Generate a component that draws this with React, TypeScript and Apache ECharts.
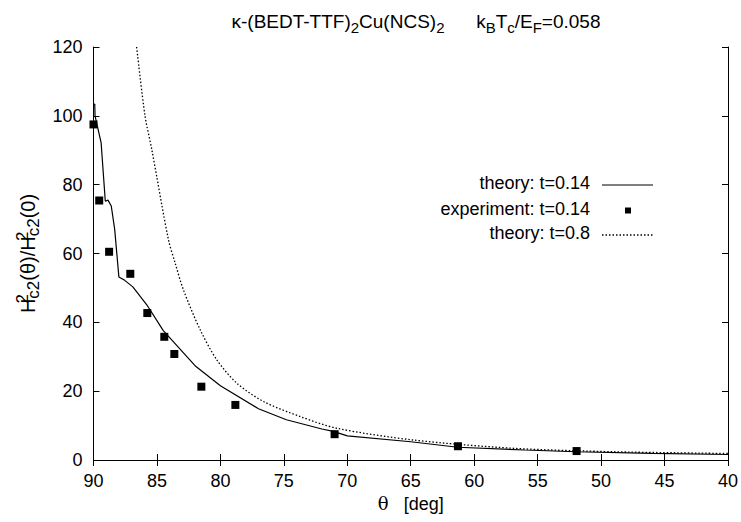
import React, { useEffect, useRef } from "react";
import * as echarts from "echarts";

const xTicks = [90, 85, 80, 75, 70, 65, 60, 55, 50, 45, 40];
const yTicks = [0, 20, 40, 60, 80, 100, 120];

const theory014: [number, number][] = [
  [90, 103.2], [89.9, 103.4], [89.88, 100], [89.4, 92.2], [89.07, 75.2], [88.86, 75.5],
  [88.6, 73.8], [88.33, 67], [88.0, 53.2], [87.54, 52.2], [86.9, 50.3], [85.8, 45.1],
  [84.5, 37.6], [82.0, 27.4], [80.0, 21.6], [77.0, 14.9], [74.8, 11.7], [72.0, 9.0],
  [71.1, 8.3], [70.0, 7.0], [65, 5.3], [61.3, 3.7], [56, 2.9], [52, 2.4], [46, 1.9], [40, 1.6],
];

const experiment014: [number, number][] = [
  [90, 97.5], [89.55, 75.4], [88.77, 60.5], [87.1, 54.1], [85.76, 42.7], [84.42, 35.8],
  [83.63, 30.8], [81.5, 21.3], [78.82, 16.0], [71.0, 7.5], [61.28, 4.0], [51.93, 2.6],
];

const theory08: [number, number][] = [
  [86.6, 120], [85.94, 100], [85.41, 90.3], [84.1, 64.1], [83.57, 57.3], [82.92, 49.5],
  [81.6, 37.9], [80.28, 29.1], [78.7, 22.3], [76.6, 17.0], [73.7, 12.6], [70.8, 9.2],
  [64.78, 5.8], [56.9, 3.4], [49, 2.4], [40, 1.9],
];

const legendNames = ["theory: t=0.14", "experiment: t=0.14", "theory: t=0.8"];

const FONT = "Liberation Sans";

export default function App() {
  const ref = useRef<HTMLDivElement>(null);
  useEffect(() => {
    if (!ref.current) return;
    const chart = echarts.init(ref.current, null, { renderer: "svg" });
    const axisCommon = {
      axisLine: { show: true, lineStyle: { color: "#000", width: 1 } },
      splitLine: { show: false },
    };
    const base = { fontFamily: FONT, color: "#000", fontWeight: "normal" };
    const normal = { ...base, fontSize: 19, lineHeight: 27, verticalAlign: "middle" };
    const sub = { ...base, fontSize: 15, lineHeight: 15, verticalAlign: "bottom" };
    const yNormal = { ...base, fontSize: 20, lineHeight: 28, verticalAlign: "middle" };
    const ySub = { ...base, fontSize: 17, lineHeight: 15, verticalAlign: "bottom" };
    const ySup = { ...base, fontSize: 17, lineHeight: 15, verticalAlign: "top", width: 0 };
    chart.setOption({
      animation: false,
      backgroundColor: "#fff",
      title: {
        text: "{n|κ-(BEDT-TTF)}{s|2}{n|Cu(NCS)}{s|2}{n|      k}{s|B}{n|T}{s|c}{n|/E}{s|F}{n|=0.058}",
        left: 411,
        top: 3,
        textAlign: "center",
        textStyle: { ...base, fontSize: 19, rich: { n: normal, s: sub } },
      },
      grid: { left: 93.5, right: 13, top: 47, bottom: 62 },
      xAxis: [
        {
          type: "value",
          min: 40,
          max: 90,
          interval: 5,
          inverse: true,
          ...axisCommon,
          axisTick: { show: true, inside: true, length: 6, lineStyle: { color: "#000" } },
          axisLabel: {
            fontSize: 18, fontFamily: FONT, color: "#000", margin: 12,
            formatter: (v: number) => (xTicks.includes(v) ? String(v) : ""),
          },
          name: "{t|θ}{n|   [deg]}",
          nameLocation: "middle",
          nameGap: 30,
          nameTextStyle: {
            rich: {
              t: { ...base, fontSize: 18, fontFamily: "DejaVu Serif" },
              n: { ...base, fontSize: 18 },
            },
          },
        },
        {
          type: "value",
          position: "top",
          min: 40,
          max: 90,
          interval: 5,
          inverse: true,
          ...axisCommon,
          axisTick: { show: true, inside: true, length: 6, lineStyle: { color: "#000" } },
          axisLabel: { show: false },
        },
      ],
      yAxis: [
        {
          type: "value",
          min: 0,
          max: 120,
          interval: 20,
          ...axisCommon,
          axisTick: { show: true, inside: true, length: 6, lineStyle: { color: "#000" } },
          axisLabel: {
            fontSize: 18, fontFamily: FONT, color: "#000", margin: 11,
            formatter: (v: number) => (yTicks.includes(v) ? String(v) : ""),
          },
          name: "{n|H}{p|2}{s|c2}{n|(θ)/H}{p|2}{s|c2}{n|(0)}",
          nameLocation: "middle",
          nameGap: 48,
          nameRotate: 90,
          nameTextStyle: { ...base, fontSize: 20, rich: { n: yNormal, s: ySub, p: ySup } },
        },
        {
          type: "value",
          position: "right",
          min: 0,
          max: 120,
          interval: 20,
          ...axisCommon,
          axisTick: { show: true, inside: true, length: 6, lineStyle: { color: "#000" } },
          axisLabel: { show: false },
        },
      ],
      series: [
        {
          name: legendNames[0],
          type: "line",
          data: theory014,
          showSymbol: false,
          symbol: "none",
          lineStyle: { color: "#000", width: 1.2 },
          z: 3,
        },
        {
          name: legendNames[1],
          type: "scatter",
          data: experiment014,
          symbol: "rect",
          symbolSize: 8,
          itemStyle: { color: "#000", opacity: 1 },
          z: 4,
        },
        {
          name: legendNames[2],
          type: "line",
          data: theory08,
          smooth: 0.3,
          showSymbol: false,
          symbol: "none",
          lineStyle: { color: "#000", width: 1.3, type: [1.5, 2] },
          z: 2,
        },
      ],
      graphic: [
        {
          type: "text", right: 741 - 590, top: 185 - 11,
          style: { text: legendNames[0], fontSize: 18, fontFamily: FONT, fill: "#000" },
        },
        {
          type: "line", shape: { x1: 602, y1: 185, x2: 653, y2: 185 },
          style: { stroke: "#000", lineWidth: 1.2 },
        },
        {
          type: "text", right: 741 - 590, top: 210.5 - 11,
          style: { text: legendNames[1], fontSize: 18, fontFamily: FONT, fill: "#000" },
        },
        {
          type: "rect", shape: { x: 625, y: 207.5, width: 6, height: 6 },
          style: { fill: "#000" },
        },
        {
          type: "text", right: 741 - 590, top: 235 - 11,
          style: { text: legendNames[2], fontSize: 18, fontFamily: FONT, fill: "#000" },
        },
        {
          type: "line", shape: { x1: 602, y1: 235, x2: 653, y2: 235 },
          style: { stroke: "#000", lineWidth: 1.3, lineDash: [1.5, 2] },
        },
      ],
    });
    return () => chart.dispose();
  }, []);
  return (
    <div
      ref={ref}
      style={{ position: "fixed", left: 0, top: 0, width: 741, height: 522, background: "#fff" }}
    />
  );
}
